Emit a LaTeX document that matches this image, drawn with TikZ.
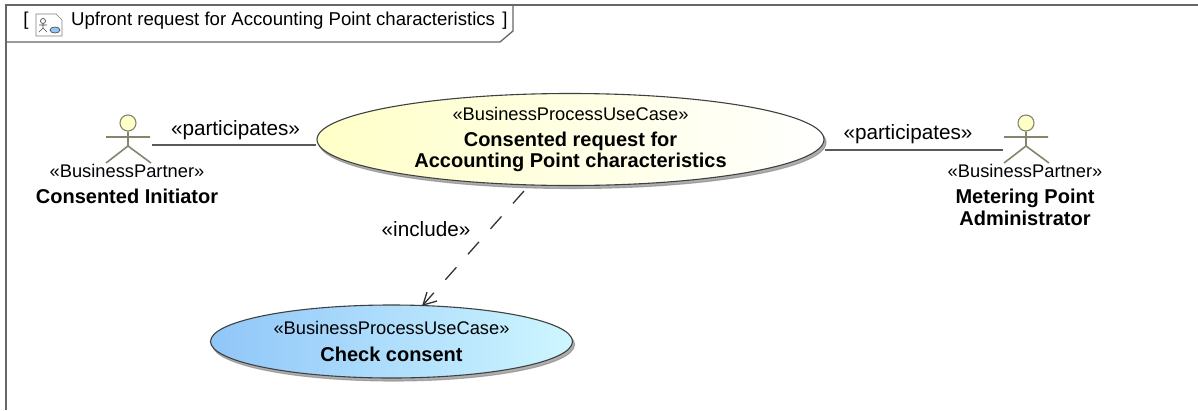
\documentclass[tikz,border=0pt]{standalone}
\usepackage{fontspec}
\setmainfont{Liberation Sans}
\usetikzlibrary{positioning, arrows}
\usetikzlibrary{shapes.geometric,shadows}
\definecolor{framegray}{HTML}{666666}
\definecolor{actorline}{HTML}{85856B}
\definecolor{caseblue}{HTML}{90C6F9}
\definecolor{casecyan}{HTML}{CEF6FF}
\definecolor{caseyellow}{HTML}{FFFFC8}
\tikzset{
    usecase/.style={shape=ellipse,draw=black!75,line width=1.1pt,inner sep=0pt,align=center,font=\fontsize{18.3}{21}\selectfont,
      copy shadow={shadow xshift=2pt,shadow yshift=-3pt,draw=black!45,fill=black!45,opacity=0.7}},
    assoclabel/.style={font=\fontsize{20.7}{24}\selectfont,inner sep=0pt},
    actorlabel/.style={align=center,inner sep=0pt,font=\fontsize{18.3}{22}\selectfont},
    actorhead/.style={shape=circle,draw=actorline,fill=caseyellow,line width=1.1pt,minimum size=16pt,inner sep=0pt},
    actorlimb/.style={draw=actorline,line width=1.6pt},
    assoc/.style={draw=black!65,line width=1.3pt},
    tabtext/.style={inner sep=0pt,font=\fontsize{18.6}{22}\selectfont},
  }
\newcommand{\bname}[1]{{\fontsize{20}{22}\selectfont\bfseries #1}}

\begin{document}
\begin{tikzpicture}[x=1pt,y=-1pt,>=stealth]
	    \useasboundingbox (0,0) rectangle (1198,410);
	    % frame and its tab
		    \draw[framegray,line width=1.3pt] (1198,5) -- (6,5) -- (6,410);
		    \draw[framegray,line width=1.3pt] (6,42) -- (500,42) -- (513,31) -- (513,5);
		    \node[tabtext] (brl) at (26,21) {[};
		    \node[tabtext,anchor=west] (title) at (71,21) {Upfront request for Accounting Point characteristics};
		    \node[tabtext] (brr) at (505,21) {]};
		    % diagram icon
		    \draw[gray,fill=white,line width=0.7pt] (36,14) -- (56,14) -- (62,20) -- (62,36) -- (36,36) -- cycle;
		    \draw[black!70,line width=0.7pt] (43,21) circle (2.5) (43,23.5) -- (43,28) (39,25) -- (47,25) (43,28) -- (39,32) (43,28) -- (47,32);
		    \draw[black!70,fill=caseblue,line width=0.7pt] (55,30) ellipse (5 and 3);
	    % create the nodes
		    \node[usecase,inner ysep=-5pt,minimum width=507pt,minimum height=92pt,left color=caseyellow,right color=white] (ua) at (570.5,139.5)
		    	{«BusinessProcessUseCase»\\[5pt]\bname{Consented request for}\\\bname{Accounting Point characteristics}};
		    \node[usecase,minimum width=362pt,minimum height=73pt,left color=caseblue,right color=casecyan] (uc) at (391.5,341.5)
		    	{«BusinessProcessUseCase»\\[6pt]\bname{Check consent}};
		    \foreach \nm/\hx in {ini/128,adm/1026}{
		    	\node[actorhead] (\nm head) at (\hx,123) {};
		    	\coordinate (\nm arml) at (\hx-22,137);
		    	\coordinate (\nm armr) at (\hx+22,137);
		    	\coordinate (\nm hip) at (\hx,146);
		    	\coordinate (\nm legl) at (\hx-22,163);
		    	\coordinate (\nm legr) at (\hx+23,163);
		    	\draw[actorlimb] (\nm head) -- (\nm hip) -- (\nm legl) (\nm hip) -- (\nm legr) (\nm arml) -- (\nm armr);
		    }
		    \node[actorlabel,anchor=north] (inilabel) at (127,164) {«BusinessPartner»\\[4pt]\bname{Consented Initiator}};
		    \node[actorlabel,anchor=north] (admlabel) at (1025,164) {«BusinessPartner»\\[4pt]\bname{Metering Point}\\\bname{Administrator}};
	    % connectors
		    \coordinate (inihand) at (152,145);
		    \coordinate (admhand) at (1003,150);
		    \coordinate (incfrom) at (524,191);
		    \coordinate (incto) at (423,305);
		    \draw[assoc] (inihand) -- (ua.west |- inihand);
		    \draw[assoc] (admhand) -- (ua.east |- admhand);
		    \draw[black!80,line width=1.3pt,dash pattern=on 16.5pt off 17.5pt] (incfrom) -- (incto);
		    \draw[black!80,line width=1.3pt] (427,292) -- (incto) -- (437,301);
		    \node[assoclabel] (part1) at (235.5,130) {«participates»};
		    \node[assoclabel] (part2) at (908,134) {«participates»};
		    \node[assoclabel] (inc) at (426,229) {«include»};
		\end{tikzpicture}
\end{document}
